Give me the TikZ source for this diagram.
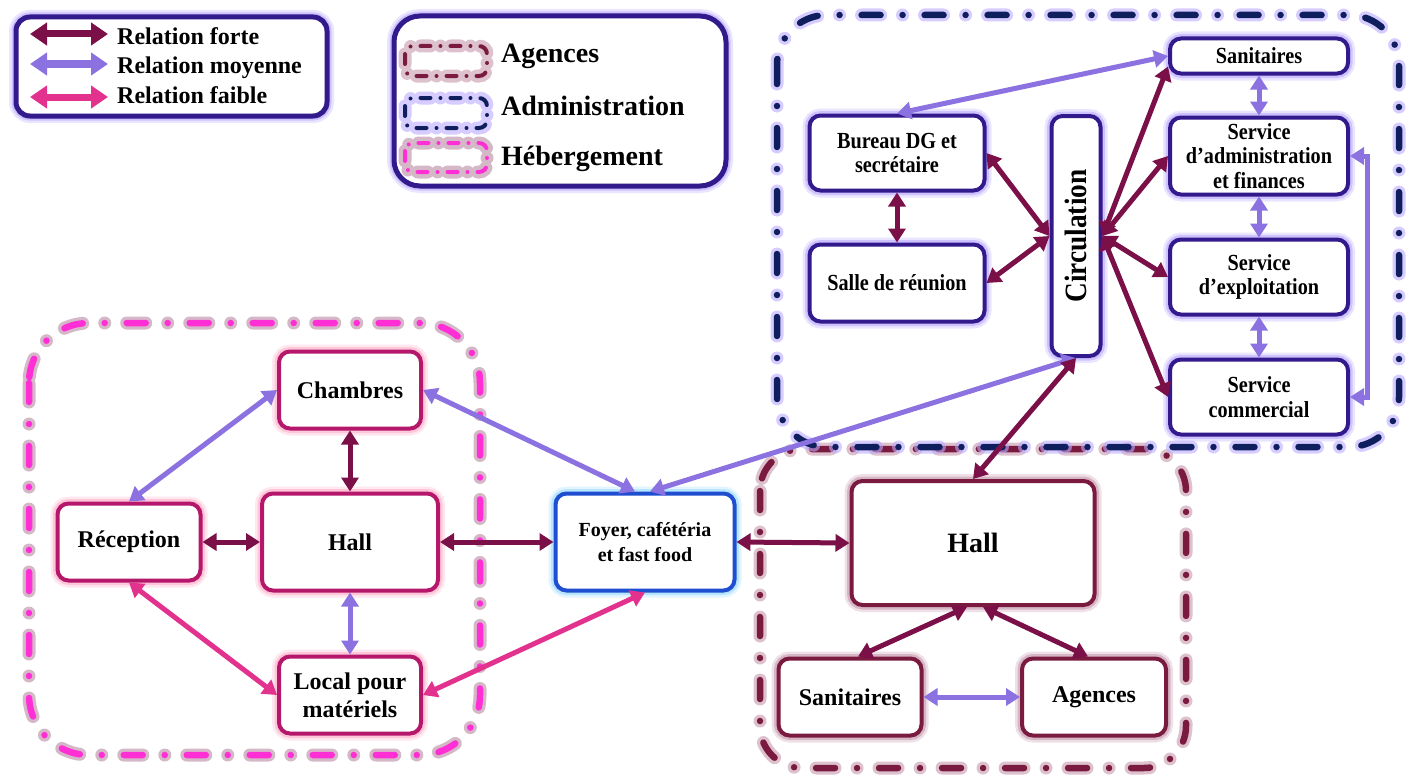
\documentclass[tikz,border=0pt]{standalone}
\usepackage{fontspec}
\setmainfont{Liberation Serif}
\newfontfamily\narrowserif[FakeStretch=0.88]{Liberation Serif}
\usetikzlibrary{arrows.meta,calc}

% relation colours
\definecolor{cforte}{HTML}{7B1048}
\definecolor{cmoy}{HTML}{8B72E0}
\definecolor{cfaib}{HTML}{E2328E}
% box outlines and glows
\definecolor{cindigo}{HTML}{32198C}
\definecolor{glowlav}{HTML}{BBAAFF}
\definecolor{cheb}{HTML}{B5186A}
\definecolor{glowpink}{HTML}{FFB0CC}
\definecolor{cage}{HTML}{7A1A3E}
\definecolor{glowmaroon}{HTML}{C79AAE}
\definecolor{cfoyer}{HTML}{1F4FD0}
\definecolor{glowcyan}{HTML}{9EDCFF}
% zone borders
\definecolor{cnavy}{HTML}{0F1F5E}
\definecolor{cmagenta}{HTML}{FF2FD5}
\definecolor{glowmauve}{HTML}{B98AA4}

\tikzset{
  glowbox/.style 2 args={draw=#1,
    preaction={draw=#2, line width=14pt, opacity=0.3},
    preaction={draw=#2, line width=9pt, opacity=0.6}},
  boxbase/.style={fill=white, line width=4pt, rounded corners=11pt,
    align=center, inner sep=0pt},
  boxA/.style={boxbase, glowbox={cindigo}{glowlav},
    font=\narrowserif\bfseries\fontsize{23}{24.5}\selectfont},
  boxH/.style={boxbase, glowbox={cheb}{glowpink},
    font=\bfseries\fontsize{24}{28}\selectfont},
  boxG/.style={boxbase, glowbox={cage}{glowmaroon},
    font=\bfseries\fontsize{24}{28}\selectfont},
  boxF/.style={boxbase, glowbox={cfoyer}{glowcyan},
    font=\bfseries\fontsize{20}{25}\selectfont},
  % dash-dot border with a dashed halo: colour, halo colour, dash length, gap
  zone/.style n args={4}{draw=#1, line width=6.5pt, line cap=round,
    dash pattern=on #3 off #4 on 0pt off #4,
    preaction={draw=#2, line width=13pt, opacity=0.6, line cap=round,
      dash pattern=on #3 off #4 on 0pt off #4}},
  bigzone/.style 2 args={zone={#1}{#2}{19pt}{22pt}},
  iconzone/.style 2 args={zone={#1}{#2}{10pt}{10pt}, line width=4pt,
    rounded corners=8pt},
  legbox/.style={draw=cindigo, fill=white, line width=5pt,
    preaction={draw=glowlav, line width=14pt, opacity=0.3},
    preaction={draw=glowlav, line width=9pt, opacity=0.6}},
  legtxt/.style={anchor=base west, inner sep=0pt,
    font=\bfseries\fontsize{24}{28}\selectfont},
  legtxtb/.style={anchor=base west, inner sep=0pt,
    font=\bfseries\fontsize{28}{32}\selectfont},
  rel/.style={line width=5pt, >={Triangle[width=17pt,length=14pt]}, <->},
  relleg/.style={line width=7pt, >={Triangle[width=22pt,length=17pt]}, <->},
  forte/.style={rel, draw=cforte},
  moy/.style={rel, draw=cmoy},
  faib/.style={rel, draw=cfaib},
}

\begin{document}
\begin{tikzpicture}[x=1pt,y=-1pt]
\fill[white] (0,0) rectangle (1415,776);
\useasboundingbox (0,0) rectangle (1415,776);

% ---- zones ----
\draw[bigzone={cage}{glowmaroon}, rounded corners=42pt] (760,449) rectangle (1186,768);
\draw[bigzone={cmagenta}{glowmauve}, rounded corners=60pt] (29,323) rectangle (480,755);
\draw[bigzone={cnavy}{glowlav}, rounded corners=50pt] (777,15) rectangle (1399,447);

% ---- legend: relations ----
\draw[legbox, rounded corners=14pt] (16,17) rectangle (327,116);
\coordinate (lf1) at (30,34);  \coordinate (lf2) at (108,34);
\coordinate (lm1) at (30,64);  \coordinate (lm2) at (108,64);
\coordinate (lb1) at (30,97);  \coordinate (lb2) at (108,97);
\draw[relleg, draw=cforte] (lf1) -- (lf2);
\draw[relleg, draw=cmoy] (lm1) -- (lm2);
\draw[relleg, draw=cfaib] (lb1) -- (lb2);
\node[legtxt] (lt1) at (117,45) {Relation forte};
\node[legtxt] (lt2) at (117,74) {Relation moyenne};
\node[legtxt] (lt3) at (117,103) {Relation faible};

% ---- legend: zones ----
\draw[legbox, rounded corners=26pt] (394,16) rectangle (726,186);
\draw[iconzone={cage}{glowmaroon}] (405,46) rectangle (487,76);
\draw[iconzone={cnavy}{glowlav}] (405,98) rectangle (487,128);
\draw[iconzone={cmagenta}{glowmauve}] (405,143) rectangle (487,172);
\node[legtxtb] (lz1) at (501,63) {Agences};
\node[legtxtb] (lz2) at (501,115) {Administration};
\node[legtxtb] (lz3) at (501,165) {Hébergement};

% ---- administration ----
\node[boxA, minimum width=178pt, minimum height=35pt] (sanA) at (1259,56) {Sanitaires};
\node[boxA, minimum width=175pt, minimum height=75pt] (bur) at (897,153) {Bureau DG et\\secrétaire};
\node[boxA, minimum width=175pt, minimum height=77pt] (sal) at (897,283) {Salle de réunion};
\node[boxA, minimum width=49pt, minimum height=240pt] (circ) at (1076,236) {};
\node[rotate=90, inner sep=0pt, font=\narrowserif\bfseries\fontsize{31}{31}\selectfont] (circT) at (circ.center) {Circulation};
\node[boxA, minimum width=178pt, minimum height=77pt] (sadm) at (1259,156) {Service\\d’administration\\et finances};
\node[boxA, minimum width=178pt, minimum height=75pt] (sexp) at (1259,277) {Service\\d’exploitation};
\node[boxA, minimum width=178pt, minimum height=75pt] (scom) at (1259,397) {Service\\commercial};

% ---- hébergement ----
\node[boxH, minimum width=142pt, minimum height=77pt] (cha) at (350,390) {Chambres};
\node[boxH, minimum width=143pt, minimum height=77pt] (rec) at (129,542) {Réception};
\node[boxH, minimum width=176pt, minimum height=97pt] (hallH) at (350,542) {Hall};
\node[boxH, minimum width=142pt, minimum height=77pt] (loc) at (350,695) {Local pour\\matériels};

% ---- foyer ----
\node[boxF, minimum width=179pt, minimum height=97pt] (foyer) at (645,542) {Foyer, cafétéria\\et fast food};

% ---- agences ----
\node[boxG, minimum width=243pt, minimum height=124pt, font=\bfseries\fontsize{28}{32}\selectfont] (hallA) at (973,543) {Hall};
\node[boxG, minimum width=143pt, minimum height=77pt] (sanG) at (850,697) {Sanitaires};
\node[boxG, minimum width=144pt, minimum height=77pt] (age) at (1094,697) {Agences};

% ---- relations: administration ----
\draw[moy] (sanA.west) -- (bur.north);
\draw[forte] (bur.south) -- (sal.north);
\draw[forte] (bur.east) -- (circ.west);
\draw[forte] (sal.east) -- (circ.west);
\draw[forte] (circ.east) -- ($(sanA.south west)+(0,-9)$);
\draw[forte] (circ.east) -- (sadm.west);
\draw[forte] (circ.east) -- (sexp.west);
\draw[forte] (circ.east) -- (scom.west);
\draw[moy] (sanA.south) -- (sadm.north);
\draw[moy] (sadm.south) -- (sexp.north);
\draw[moy] (sexp.south) -- (scom.north);
\draw[moy] (sadm.east) -- ++(17,0) |- (scom.east);
\draw[moy] (circ.south) -- ($(foyer.north)+(5,0)$);
\draw[forte] (circ.south) -- (hallA.north);

% ---- relations: hébergement ----
\draw[moy] (cha.west) -- (rec.north);
\draw[forte] (cha.south) -- (hallH.north);
\draw[forte] (rec.east) -- (hallH.west);
\draw[moy] (hallH.south) -- (loc.north);
\draw[faib] (rec.south) -- (loc.west);
\draw[moy] (cha.east) -- ($(foyer.north)+(-10,0)$);
\draw[forte] (hallH.east) -- (foyer.west);
\draw[faib] (loc.east) -- (foyer.south);
\draw[forte] (foyer.east) -- (hallA.west);

% ---- relations: agences ----
\draw[forte] ($(hallA.south)+(-6,0)$) -- ($(sanG.north)+(8,0)$);
\draw[forte] ($(hallA.south)+(10,0)$) -- ($(age.north)+(-6,0)$);
\draw[moy] (sanG.east) -- (age.west);
\end{tikzpicture}
\end{document}
